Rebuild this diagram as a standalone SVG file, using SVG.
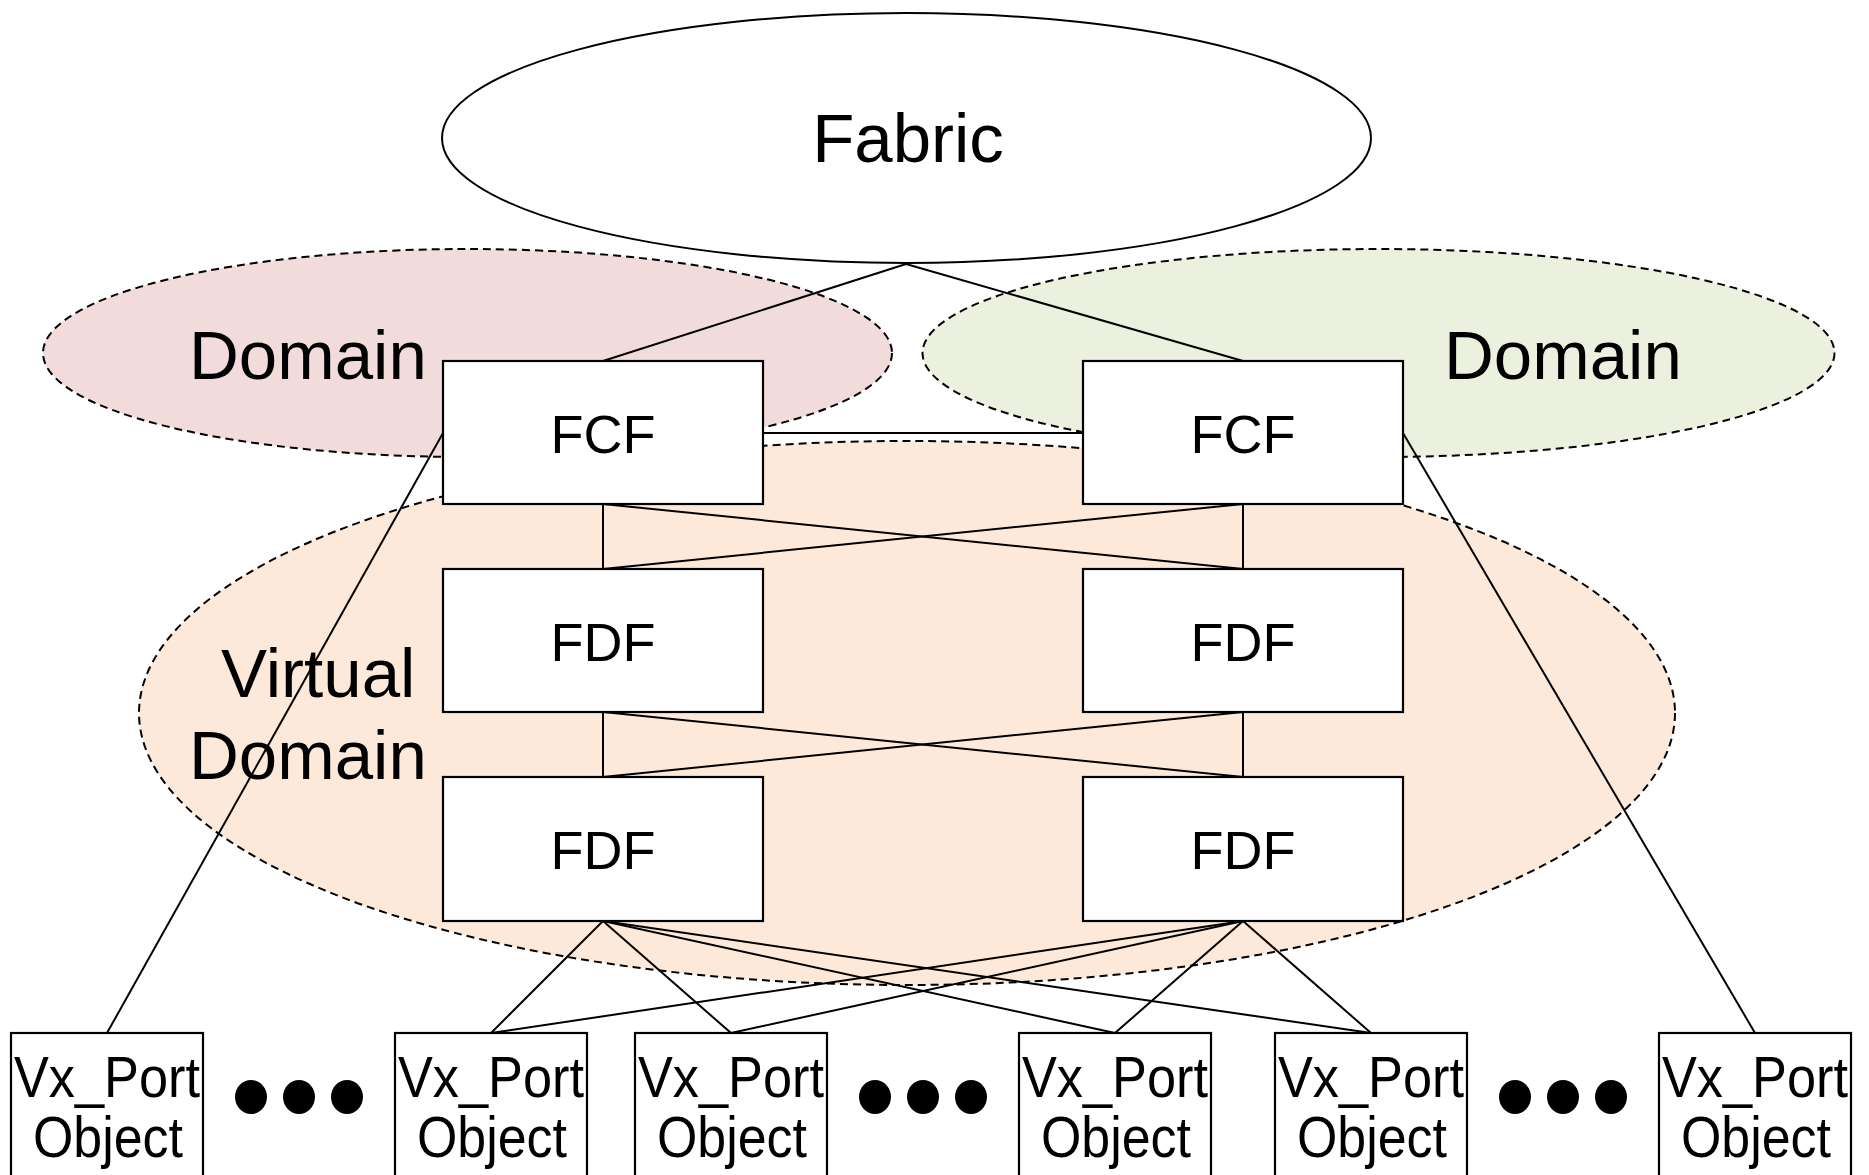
<svg xmlns="http://www.w3.org/2000/svg" width="1869" height="1175" viewBox="0 0 1869 1175">
<style>
.region{stroke:#000;stroke-width:2;stroke-dasharray:8 5}
.box{fill:#fff;stroke:#000;stroke-width:2.2}
.lbl{font-family:"Liberation Sans",Arial,sans-serif;fill:#000}
.big{font-size:69px}
.mid{font-size:54px}
.vx{font-size:58px}
.conn line{stroke:#000;stroke-width:2;fill:none}
.dot{fill:#000}
</style>
<rect width="1869" height="1175" fill="#fff"/>
<g id="domain-left">
<ellipse class="region" cx="467.5" cy="353" rx="424.5" ry="104" fill="#f2dcdb"/>
<text class="lbl big" x="189" y="379">Domain</text>
</g>
<g id="domain-right">
<ellipse class="region" cx="1378.5" cy="353" rx="456" ry="104" fill="#ebf1de"/>
<text class="lbl big" x="1444" y="379">Domain</text>
</g>
<g id="virtual-domain">
<ellipse class="region" cx="907" cy="713" rx="768" ry="272" fill="#fde9d9"/>
<text class="lbl big" x="221" y="697">Virtual</text>
<text class="lbl big" x="189" y="779">Domain</text>
</g>
<g id="fabric">
<ellipse cx="906.5" cy="138" rx="464.5" ry="125" fill="#fff" stroke="#000" stroke-width="2"/>
<text class="lbl big" x="908" y="162" text-anchor="middle">Fabric</text>
</g>
<g id="connectors" class="conn">
<line x1="906" y1="264" x2="603" y2="361"/>
<line x1="906" y1="264" x2="1243" y2="361"/>
<line x1="763" y1="433" x2="1083" y2="433"/>
<line x1="443" y1="433" x2="107" y2="1033"/>
<line x1="1403" y1="433" x2="1755" y2="1033"/>
<line x1="603" y1="504" x2="603" y2="569"/>
<line x1="1243" y1="504" x2="1243" y2="569"/>
<line x1="603" y1="504" x2="1243" y2="569"/>
<line x1="1243" y1="504" x2="603" y2="569"/>
<line x1="603" y1="712" x2="603" y2="777"/>
<line x1="1243" y1="712" x2="1243" y2="777"/>
<line x1="603" y1="712" x2="1243" y2="777"/>
<line x1="1243" y1="712" x2="603" y2="777"/>
<line x1="603" y1="921" x2="491" y2="1033"/>
<line x1="603" y1="921" x2="731" y2="1033"/>
<line x1="603" y1="921" x2="1115" y2="1033"/>
<line x1="603" y1="921" x2="1371" y2="1033"/>
<line x1="1243" y1="921" x2="491" y2="1033"/>
<line x1="1243" y1="921" x2="731" y2="1033"/>
<line x1="1243" y1="921" x2="1115" y2="1033"/>
<line x1="1243" y1="921" x2="1371" y2="1033"/>
</g>
<g id="fcf-left"><rect class="box" x="443" y="361" width="320" height="143"/><text class="lbl mid" x="603" y="453" text-anchor="middle">FCF</text></g>
<g id="fcf-right"><rect class="box" x="1083" y="361" width="320" height="143"/><text class="lbl mid" x="1243" y="453" text-anchor="middle">FCF</text></g>
<g id="fdf-left-1"><rect class="box" x="443" y="569" width="320" height="143"/><text class="lbl mid" x="603" y="661" text-anchor="middle">FDF</text></g>
<g id="fdf-right-1"><rect class="box" x="1083" y="569" width="320" height="143"/><text class="lbl mid" x="1243" y="661" text-anchor="middle">FDF</text></g>
<g id="fdf-left-2"><rect class="box" x="443" y="777" width="320" height="144"/><text class="lbl mid" x="603" y="869" text-anchor="middle">FDF</text></g>
<g id="fdf-right-2"><rect class="box" x="1083" y="777" width="320" height="144"/><text class="lbl mid" x="1243" y="869" text-anchor="middle">FDF</text></g>
<g id="vx-1"><rect class="box" x="11" y="1033" width="192" height="170"/><text class="lbl vx" x="107" y="1097" text-anchor="middle" textLength="186" lengthAdjust="spacingAndGlyphs">Vx_Port</text><text class="lbl vx" x="108" y="1157" text-anchor="middle" textLength="150" lengthAdjust="spacingAndGlyphs">Object</text></g>
<g id="vx-2"><rect class="box" x="395" y="1033" width="192" height="170"/><text class="lbl vx" x="491" y="1097" text-anchor="middle" textLength="186" lengthAdjust="spacingAndGlyphs">Vx_Port</text><text class="lbl vx" x="492" y="1157" text-anchor="middle" textLength="150" lengthAdjust="spacingAndGlyphs">Object</text></g>
<g id="vx-3"><rect class="box" x="635" y="1033" width="192" height="170"/><text class="lbl vx" x="731" y="1097" text-anchor="middle" textLength="186" lengthAdjust="spacingAndGlyphs">Vx_Port</text><text class="lbl vx" x="732" y="1157" text-anchor="middle" textLength="150" lengthAdjust="spacingAndGlyphs">Object</text></g>
<g id="vx-4"><rect class="box" x="1019" y="1033" width="192" height="170"/><text class="lbl vx" x="1115" y="1097" text-anchor="middle" textLength="186" lengthAdjust="spacingAndGlyphs">Vx_Port</text><text class="lbl vx" x="1116" y="1157" text-anchor="middle" textLength="150" lengthAdjust="spacingAndGlyphs">Object</text></g>
<g id="vx-5"><rect class="box" x="1275" y="1033" width="192" height="170"/><text class="lbl vx" x="1371" y="1097" text-anchor="middle" textLength="186" lengthAdjust="spacingAndGlyphs">Vx_Port</text><text class="lbl vx" x="1372" y="1157" text-anchor="middle" textLength="150" lengthAdjust="spacingAndGlyphs">Object</text></g>
<g id="vx-6"><rect class="box" x="1659" y="1033" width="192" height="170"/><text class="lbl vx" x="1755" y="1097" text-anchor="middle" textLength="186" lengthAdjust="spacingAndGlyphs">Vx_Port</text><text class="lbl vx" x="1756" y="1157" text-anchor="middle" textLength="150" lengthAdjust="spacingAndGlyphs">Object</text></g>
<g id="ellipsis-1"><ellipse class="dot" cx="251" cy="1097" rx="16" ry="17"/><ellipse class="dot" cx="299" cy="1097" rx="16" ry="17"/><ellipse class="dot" cx="347" cy="1097" rx="16" ry="17"/></g>
<g id="ellipsis-2"><ellipse class="dot" cx="875" cy="1097" rx="16" ry="17"/><ellipse class="dot" cx="923" cy="1097" rx="16" ry="17"/><ellipse class="dot" cx="971" cy="1097" rx="16" ry="17"/></g>
<g id="ellipsis-3"><ellipse class="dot" cx="1515" cy="1097" rx="16" ry="17"/><ellipse class="dot" cx="1563" cy="1097" rx="16" ry="17"/><ellipse class="dot" cx="1611" cy="1097" rx="16" ry="17"/></g>
</svg>
